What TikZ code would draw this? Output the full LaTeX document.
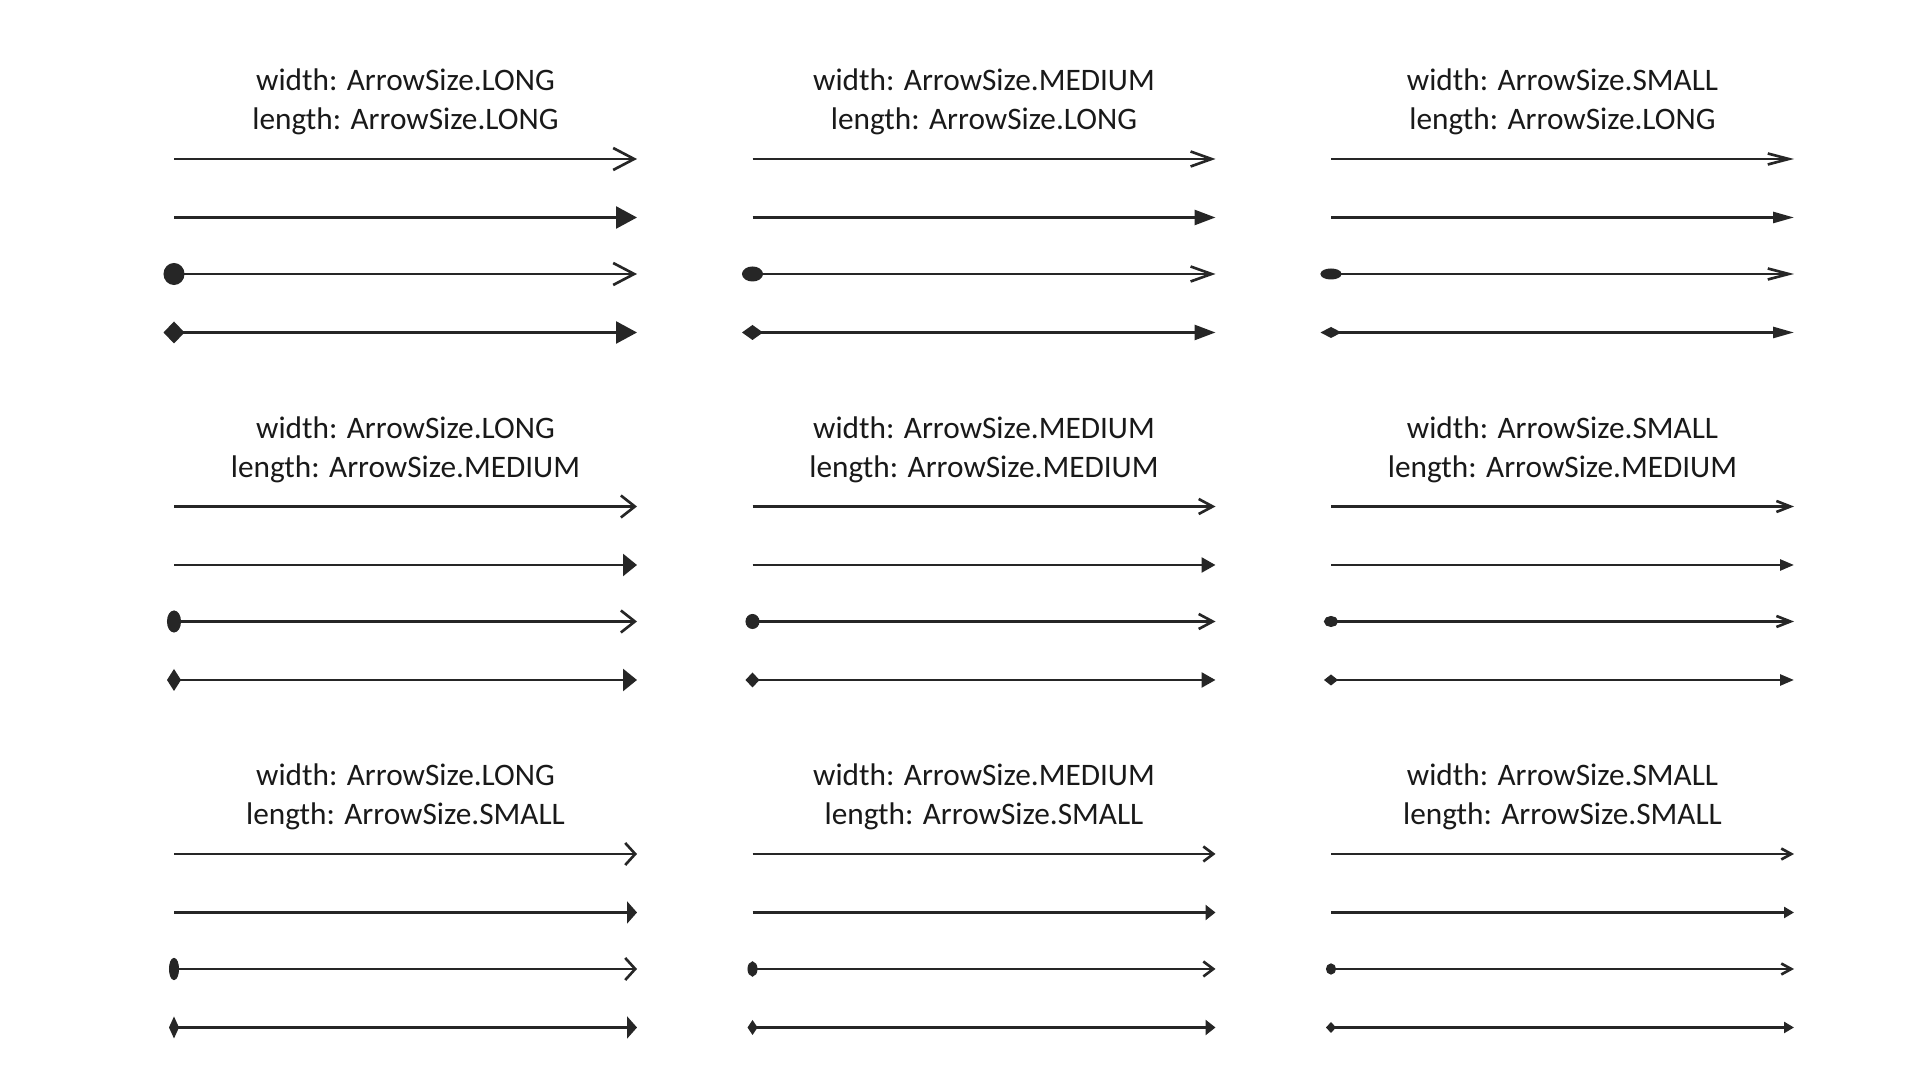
\documentclass[tikz,border=0pt]{standalone}
\usepackage{fontspec}
\setmainfont{Carlito}
\usetikzlibrary{arrows.meta}
\begin{document}
\begin{tikzpicture}[x=0.01cm,y=-0.01cm,
  lbl/.style={align=center,font=\fontsize{8.9pt}{11pt}\selectfont,text=black!90,inner sep=0pt},
  ln/.style={line width=0.75pt,draw=black!85}]
\path[use as bounding box,fill=white] (0,0) rectangle (1920,1080);
\foreach \c/\cx/\wn/\w in {0/174/LONG/22,1/752.5/MEDIUM/15,2/1331/SMALL/11}{
  \foreach \r/\ry/\lnm/\l in {0/0/LONG/21,1/347.5/MEDIUM/14,2/695/SMALL/10}{
    \pgfmathsetmacro{\ex}{\cx+463}
    \pgfmathsetmacro{\sx}{\cx-\l/2}
    \pgfmathsetmacro{\tx}{\cx+231.5}
    \node[lbl] (t\c\r) at (\tx,{\ry+102}) {width: ArrowSize.\wn\\length: ArrowSize.\lnm};
    \coordinate (a\c\r) at (\cx,{\ry+159});
    \coordinate (b\c\r) at (\ex,{\ry+159});
    \coordinate (c\c\r) at (\cx,{\ry+217.5});
    \coordinate (d\c\r) at (\ex,{\ry+217.5});
    \coordinate (e\c\r) at (\sx,{\ry+274});
    \coordinate (f\c\r) at (\ex,{\ry+274});
    \coordinate (g\c\r) at (\sx,{\ry+332.5});
    \coordinate (h\c\r) at (\ex,{\ry+332.5});
    \draw[ln,-{Straight Barb[length=\l*0.01cm,width=\w*0.01cm]}] (a\c\r) -- (b\c\r);
    \draw[ln,-{Triangle[length=\l*0.01cm,width=\w*0.01cm]}] (c\c\r) -- (d\c\r);
    \draw[ln,{Ellipse[length=\l*0.01cm,width=\w*0.01cm]}-{Straight Barb[length=\l*0.01cm,width=\w*0.01cm]}] (e\c\r) -- (f\c\r);
    \draw[ln,{Diamond[length=\l*0.01cm,width=\w*0.01cm]}-{Triangle[length=\l*0.01cm,width=\w*0.01cm]}] (g\c\r) -- (h\c\r);
  }
}
\end{tikzpicture}
\end{document}
